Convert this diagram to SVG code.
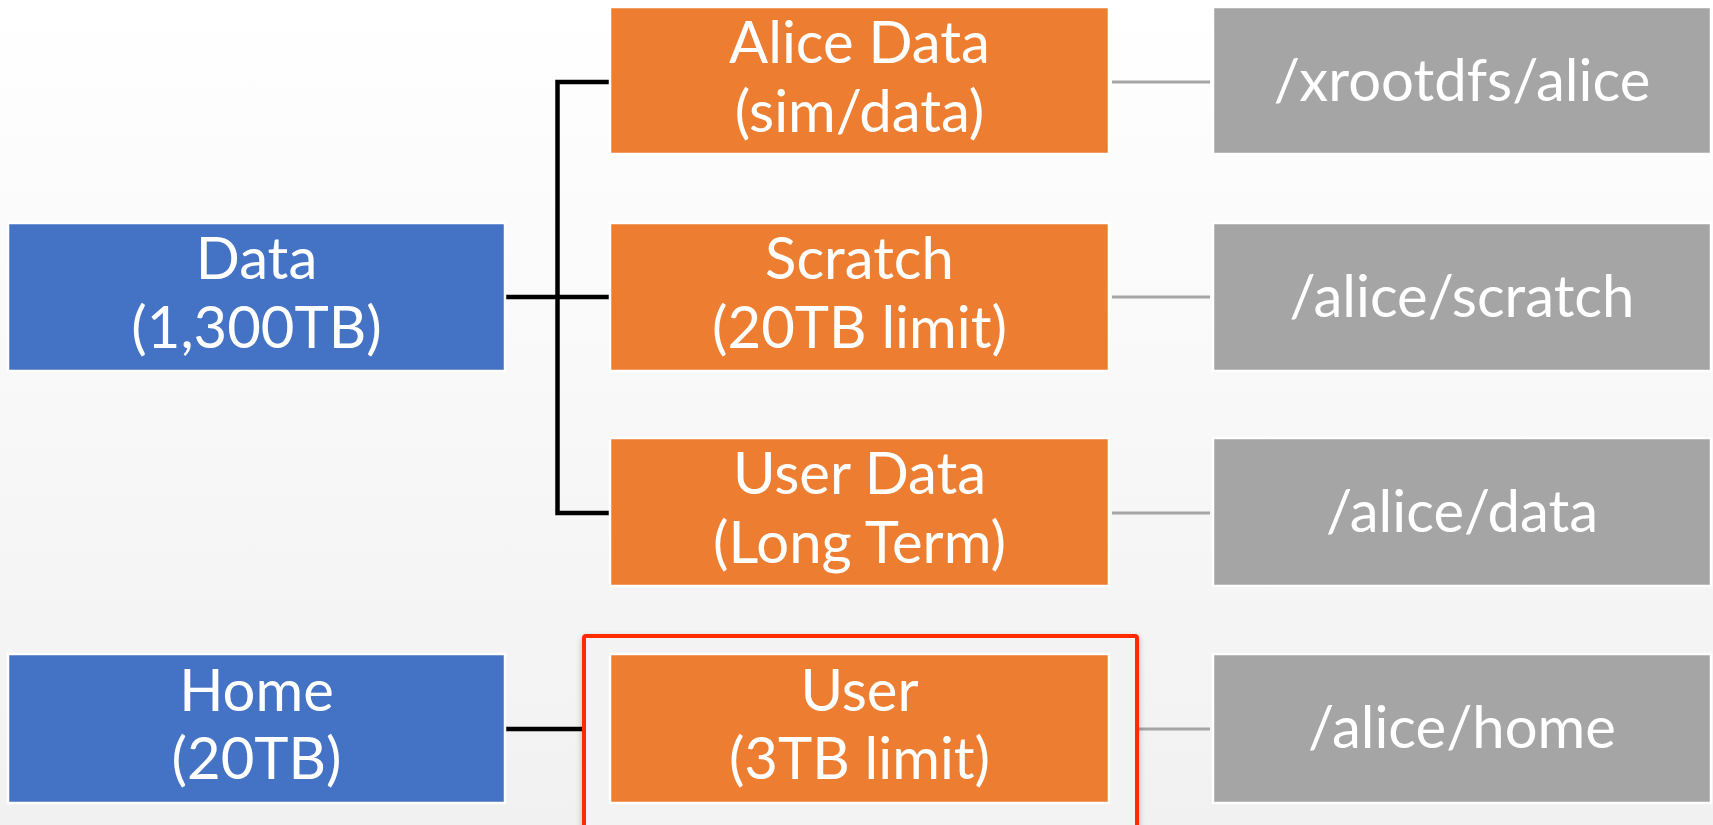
<svg xmlns="http://www.w3.org/2000/svg" width="1713" height="825" viewBox="0 0 1713 825">
<defs>
<linearGradient id="bg" x1="0" y1="0" x2="0" y2="1">
<stop offset="0" stop-color="#ffffff"/>
<stop offset="1" stop-color="#f1f1f1"/>
</linearGradient>
<filter id="sh" x="-5%" y="-5%" width="110%" height="110%">
<feDropShadow dx="0" dy="3" stdDeviation="3" flood-color="#000" flood-opacity="0.25"/>
</filter>
</defs>
<style>
text{font-family:Lato,"Open Sans","Liberation Sans",sans-serif;font-size:58px;fill:#fff;text-anchor:middle}
.blue{fill:#4472c4;stroke:#fff;stroke-width:2.5}
.orange{fill:#ed7d31;stroke:#fff;stroke-width:2.5}
.gray{fill:#a5a5a5;stroke:#fff;stroke-width:2.5}
.blk{stroke:#000;stroke-width:4.5;fill:none}
.gl{stroke:#a5a5a5;stroke-width:3;fill:none}
</style>
<rect x="0" y="0" width="1713" height="825" fill="url(#bg)"/>
<g id="connectors">
<path class="blk" d="M609 82 H557.5 V513 H609"/>
<path class="blk" d="M506 297 H609"/>
<path class="blk" d="M506 729 H609"/>
<path class="gl" d="M1112 82 H1210"/>
<path class="gl" d="M1112 297 H1210"/>
<path class="gl" d="M1112 513 H1210"/>
<path class="gl" d="M1112 729 H1210"/>
</g>
<g id="highlight">
<rect x="584" y="636" width="553" height="192" rx="2" fill="#f3f3f3" stroke="#ff2a00" stroke-width="4" filter="url(#sh)"/>
</g>
<g id="data">
<rect class="blue" x="8" y="223" width="497" height="148"/>
<text x="256.5" y="279">Data</text>
<text x="256.5" y="348">(1,300TB)</text>
</g>
<g id="home">
<rect class="blue" x="8" y="654" width="497" height="149"/>
<text x="256.5" y="711">Home</text>
<text x="256.5" y="779">(20TB)</text>
</g>
<g id="alice-data">
<rect class="orange" x="610" y="7" width="499" height="147"/>
<text x="859.5" y="63">Alice Data</text>
<text x="859.5" y="132">(sim/data)</text>
</g>
<g id="scratch">
<rect class="orange" x="610" y="223" width="499" height="148"/>
<text x="859.5" y="279">Scratch</text>
<text x="859.5" y="348">(20TB limit)</text>
</g>
<g id="user-data">
<rect class="orange" x="610" y="438" width="499" height="148"/>
<text x="859.5" y="494">User Data</text>
<text x="859.5" y="563">(Long Term)</text>
</g>
<g id="user">
<rect class="orange" x="610" y="654" width="499" height="149"/>
<text x="859.5" y="711">User</text>
<text x="859.5" y="779">(3TB limit)</text>
</g>
<g id="xrootdfs-alice">
<rect class="gray" x="1213" y="7" width="498" height="147"/>
<text x="1462" y="101">/xrootdfs/alice</text>
</g>
<g id="alice-scratch">
<rect class="gray" x="1213" y="223" width="498" height="148"/>
<text x="1462" y="317">/alice/scratch</text>
</g>
<g id="alice-data-path">
<rect class="gray" x="1213" y="438" width="498" height="148"/>
<text x="1462" y="532">/alice/data</text>
</g>
<g id="alice-home">
<rect class="gray" x="1213" y="654" width="498" height="149"/>
<text x="1462" y="748">/alice/home</text>
</g>
</svg>
